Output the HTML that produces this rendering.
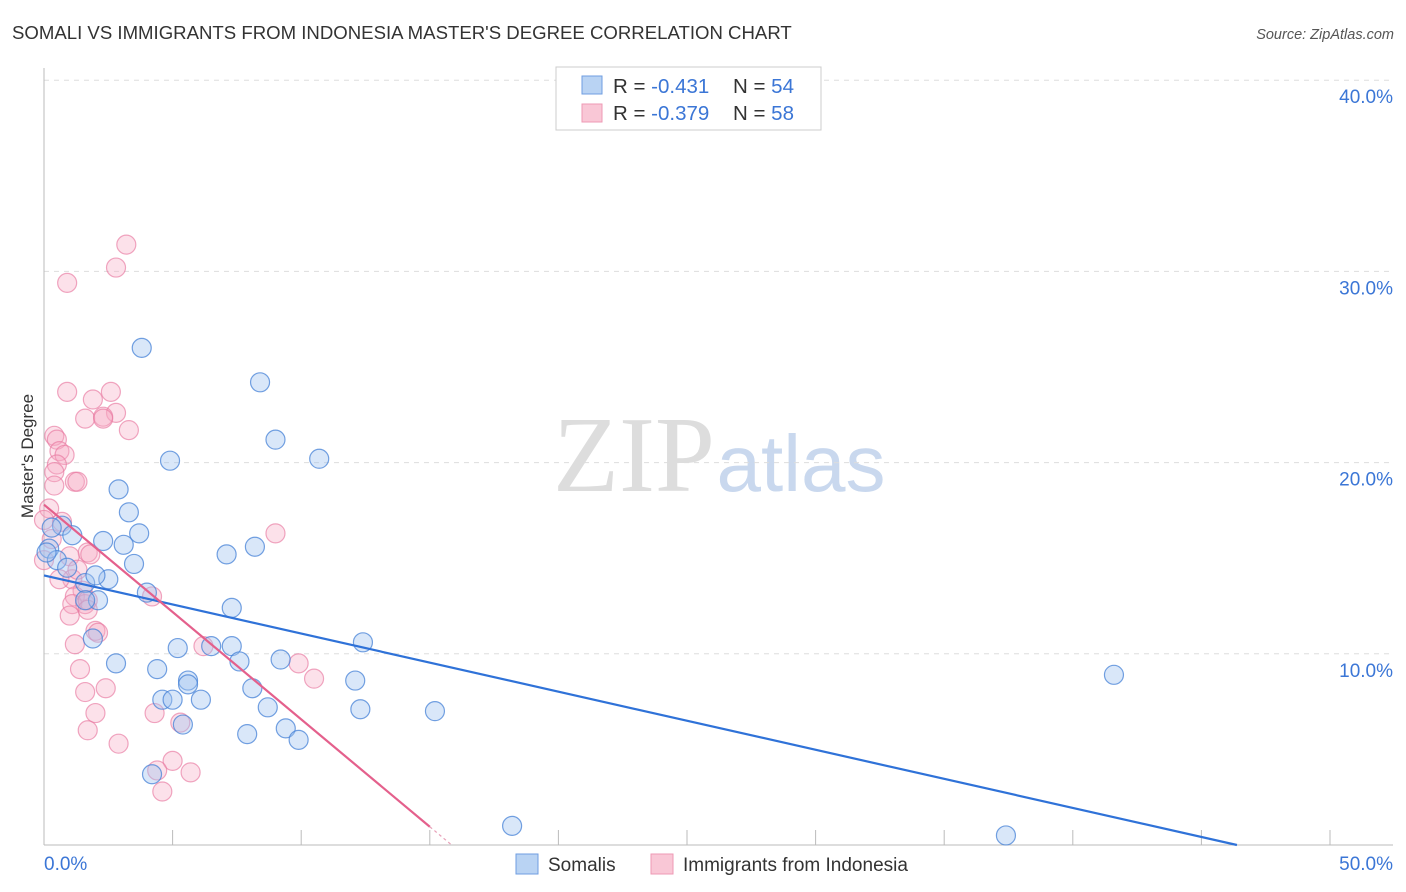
<!DOCTYPE html>
<html><head><meta charset="utf-8"><style>
body{margin:0;background:#fff;font-family:"Liberation Sans",sans-serif}
svg{display:block}
</style></head><body>
<svg id="chart" width="1406" height="892" font-family="Liberation Sans, sans-serif">
<text x="12" y="39" font-size="18.6" fill="#333">SOMALI VS IMMIGRANTS FROM INDONESIA MASTER'S DEGREE CORRELATION CHART</text>
<text x="1394" y="39" font-size="14.5" fill="#555" font-style="italic" text-anchor="end">Source: ZipAtlas.com</text>
<text x="33" y="456" font-size="17" fill="#333" text-anchor="middle" transform="rotate(-90 33 456)">Master's Degree</text>
<g><text x="634" y="491" font-size="108" fill="#ddd" font-family="Liberation Serif, serif" text-anchor="middle">ZIP</text><text x="801" y="491" font-size="80" fill="#c9d8ee" text-anchor="middle">atlas</text></g>
<g id="grid"></g><g id="axes"></g><g id="pts"></g><g id="lines"></g>
<g>
<rect x="556" y="67" width="265" height="63" fill="#fff" stroke="#ccc"/>
<rect x="582" y="76" width="20" height="18" fill="#b9d3f3" stroke="#6f9ee0"/>
<rect x="582" y="104" width="20" height="18" fill="#f9c7d6" stroke="#ee9ab4"/>
<text x="613" y="93" font-size="20.5" fill="#333">R = <tspan fill="#3b76d6">-0.431</tspan><tspan x="733">N = </tspan><tspan fill="#3b76d6">54</tspan></text>
<text x="613" y="120" font-size="20.5" fill="#333">R = <tspan fill="#3b76d6">-0.379</tspan><tspan x="733">N = </tspan><tspan fill="#3b76d6">58</tspan></text>
</g>
<g>
<rect x="516" y="854" width="22" height="20" fill="#b9d3f3" stroke="#6f9ee0"/>
<text x="548" y="871" font-size="19" fill="#333">Somalis</text>
<rect x="651" y="854" width="22" height="20" fill="#f9c7d6" stroke="#ee9ab4"/>
<text x="683" y="871" font-size="19" fill="#333">Immigrants from Indonesia</text>
</g>
</svg>
<script>
const yTicks=[10,20,30,40];
const yTickLabels=["10.0%","20.0%","30.0%","40.0%"];
const xTickVals=[0,5,10,15,20,25,30,35,40,45,50];
const blueX=[3.8,8.4,9.0,10.7,4.9,2.9,3.3,0.7,1.1,3.7,2.3,3.1,8.2,7.1,0.2,3.5,0.5,0.9,1.6,2.5,2.0,4.0,2.1,1.6,7.3,1.9,12.4,5.2,6.5,7.3,7.6,9.2,2.8,4.4,5.6,5.6,12.1,8.1,4.6,5.0,6.1,12.3,15.2,8.7,5.4,9.4,7.9,9.9,4.2,18.2,37.4,41.6,0.1,0.3];
const blueY=[26.0,24.2,21.2,20.2,20.1,18.6,17.4,16.7,16.2,16.3,15.9,15.7,15.6,15.2,15.5,14.7,14.9,14.5,13.7,13.9,14.1,13.2,12.8,12.8,12.4,10.8,10.6,10.3,10.4,10.4,9.6,9.7,9.5,9.2,8.6,8.4,8.6,8.2,7.6,7.6,7.6,7.1,7.0,7.2,6.3,6.1,5.8,5.5,3.7,1.0,0.5,8.9,15.3,16.6];
const pinkX=[3.2,2.8,0.9,0.9,2.6,1.9,2.8,1.6,2.3,2.3,3.3,0.4,0.5,0.6,0.8,0.5,0.4,1.2,1.3,0.4,9.0,0.2,0,0.7,1.7,1.8,1.0,0,1.1,1.3,0.6,1.5,1.2,1.6,1.1,1.7,1.7,1.0,4.2,2.0,2.1,1.2,6.2,1.4,9.9,10.5,1.6,2.4,2.0,4.3,5.3,1.7,2.9,5.0,4.4,5.7,4.6,0.3];
const pinkY=[31.4,30.2,29.4,23.7,23.7,23.3,22.6,22.3,22.4,22.3,21.7,21.4,21.2,20.6,20.4,19.9,19.5,19.0,19.0,18.8,16.3,17.6,17.0,16.9,15.3,15.2,15.1,14.9,13.9,14.4,13.9,13.3,13.0,12.6,12.6,12.8,12.3,12.0,13.0,11.2,11.1,10.5,10.4,9.2,9.5,8.7,8.0,8.2,6.9,6.9,6.4,6.0,5.3,4.4,3.9,3.8,2.8,16.0];
const blueTrend=[14.1,-0.304];
const pinkTrend=[17.8,-1.123];
const X=v=>44+v*25.72, Y=v=>845-v*19.12;
const NS="http://www.w3.org/2000/svg";
function mk(t,a,p){const e=document.createElementNS(NS,t);for(const k in a)e.setAttribute(k,a[k]);document.getElementById(p).appendChild(e);return e;}
yTicks.forEach((v,i)=>{
 const l=mk('line',{x1:44,x2:1393,y1:Y(v),y2:Y(v),stroke:'#ddd','stroke-dasharray':'5,5'},'grid');
 
 
 const t=mk('text',{x:1393,y:Y(v)+23,'font-size':19,fill:'#3b76d6','text-anchor':'end'},'grid');
 t.textContent=yTickLabels[i];
 
 
});
const ax=mk('line',{x1:44,x2:1393,y1:845,y2:845,stroke:'#bbb'},'axes');


const ay=mk('line',{x1:44,x2:44,y1:68,y2:845,stroke:'#bbb'},'axes');


xTickVals.forEach(v=>{const t=mk('line',{x1:X(v),x2:X(v),y1:830,y2:845,stroke:'#bbb'},'axes');
 
 });
[[0,"0.0%",'start',44],[50,"50.0%",'end',1393]].forEach(a=>{const t=mk('text',{x:a[3],y:870,'font-size':19,fill:'#3b76d6','text-anchor':a[2]},'axes');t.textContent=a[1];
 
 });
pinkX.forEach((x,i)=>{const c=mk('circle',{cx:X(x),cy:Y(pinkY[i]),r:9.5,fill:'rgba(246,170,195,0.35)',stroke:'rgba(232,120,160,0.65)','stroke-width':1.2},'pts');
 
 });
blueX.forEach((x,i)=>{const c=mk('circle',{cx:X(x),cy:Y(blueY[i]),r:9.5,fill:'rgba(160,195,240,0.4)',stroke:'rgba(70,130,215,0.75)','stroke-width':1.2},'pts');
 
 });
const bEnd=-blueTrend[0]/blueTrend[1];
const bl=mk('line',{x1:X(0),y1:Y(blueTrend[0]),x2:X(bEnd),y2:Y(0),stroke:'#2f72d8','stroke-width':2.2},'lines');


const pEnd=-pinkTrend[0]/pinkTrend[1];
const pl=mk('line',{x1:X(0),y1:Y(pinkTrend[0]),x2:X(15),y2:Y(pinkTrend[0]+pinkTrend[1]*15),stroke:'#e4608c','stroke-width':2.2},'lines');


const pd=mk('line',{x1:X(15),y1:Y(pinkTrend[0]+pinkTrend[1]*15),x2:X(pEnd),y2:Y(0),stroke:'#e8a0b8','stroke-width':1.2,'stroke-dasharray':'3,3'},'lines');


</script>
</body></html>
